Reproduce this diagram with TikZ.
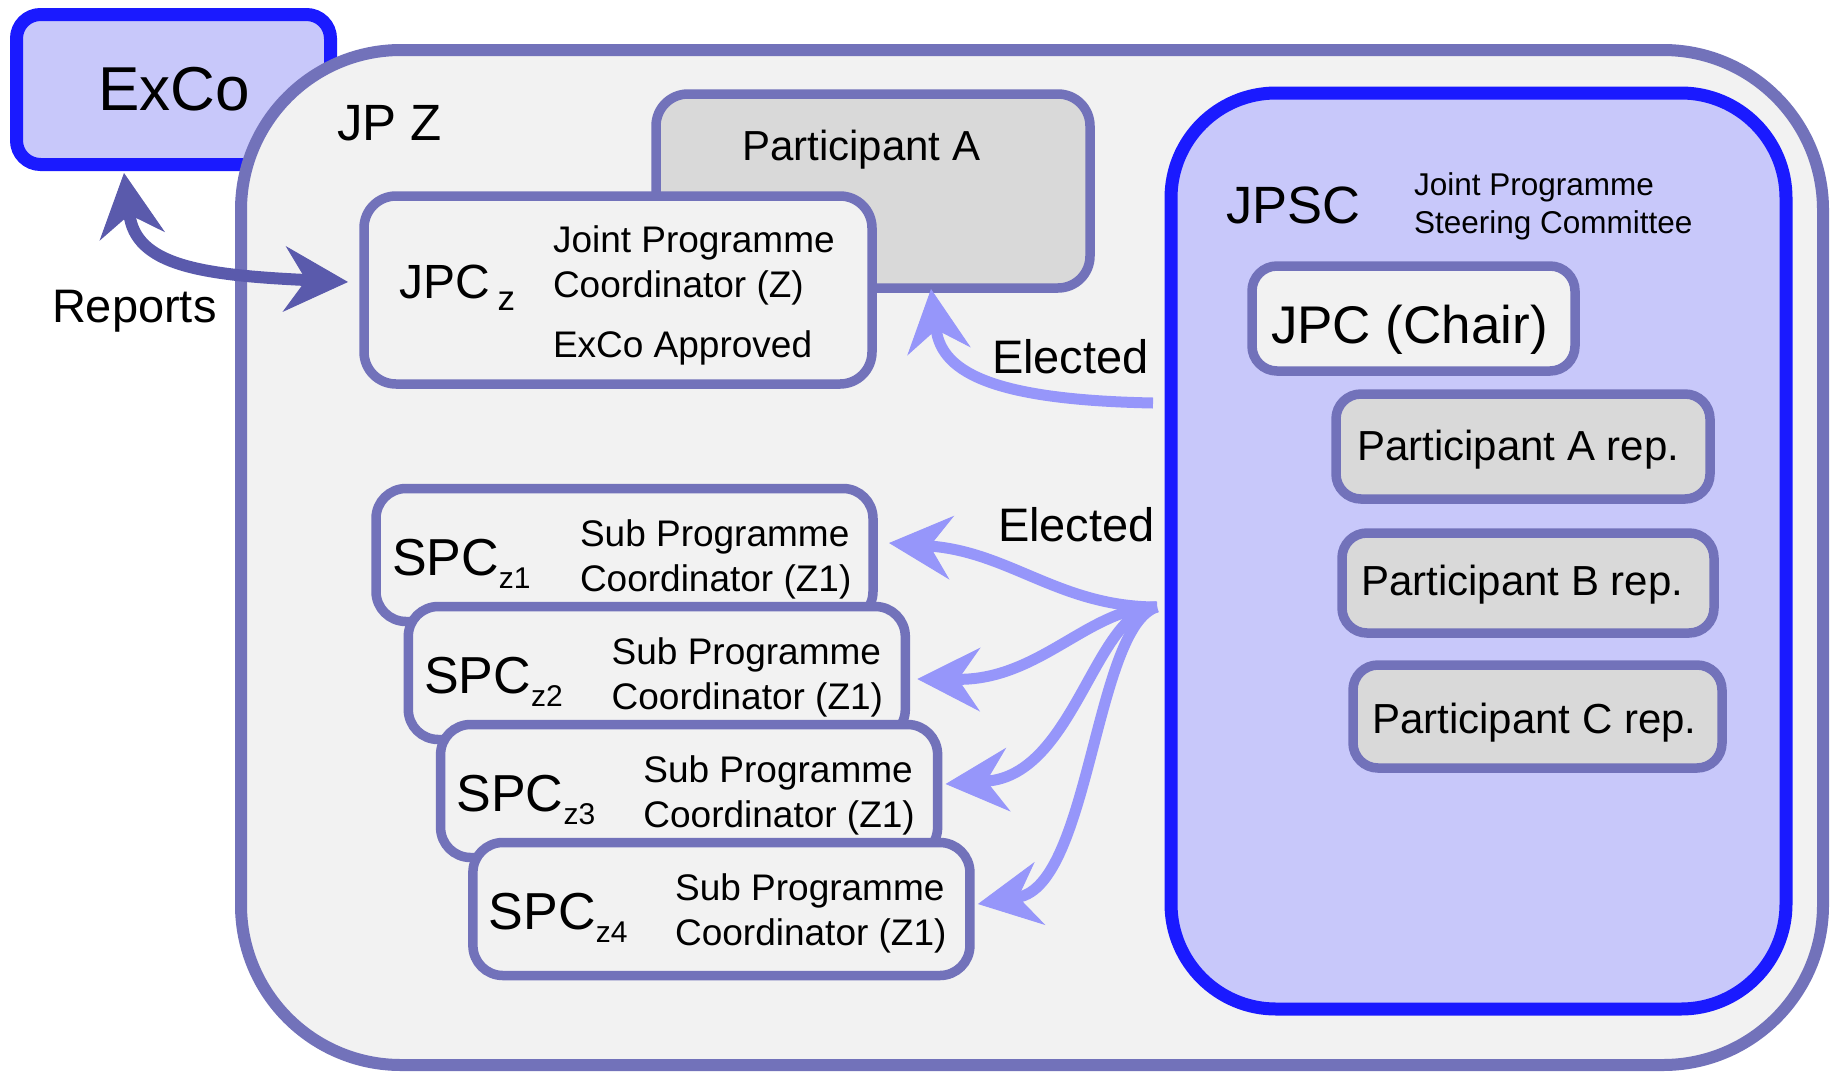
\documentclass[tikz,border=0pt]{standalone}
\usepackage{fontspec}
\setmainfont{Liberation Sans}
\usetikzlibrary{arrows.meta,calc}
\definecolor{bord}{RGB}{114,114,186}
\definecolor{bgray}{HTML}{F2F2F2}
\definecolor{pgray}{HTML}{D9D9D9}
\definecolor{bblue}{RGB}{26,26,255}
\definecolor{lblue}{RGB}{200,200,250}
\definecolor{repcol}{RGB}{90,90,172}
\definecolor{eleccol}{RGB}{150,150,250}
\newcommand\myfs[1]{\fontsize{#1pt}{#1pt}\selectfont}
\begin{document}
\begin{tikzpicture}[x=1pt,y=-1pt,
  every node/.style={inner sep=0pt, outer sep=0pt},
  txt/.style={anchor=base west},
  box/.style={draw=bord, line width=9.5pt, rounded corners=30pt, fill=bgray},
  repbox/.style={box, fill=pgray, rounded corners=25pt},
  bluebox/.style={draw=bblue, line width=13pt, fill=lblue},
  bigbox/.style={draw=bord, line width=12pt, fill=bgray, rounded corners=160pt},
  reparrow/.style={draw=repcol, line width=12pt,
    {Stealth[length=64pt,width=66pt,inset=22pt,line width=1pt]}-{Stealth[length=64pt,width=66pt,inset=22pt,line width=1pt]}},
  elarrow/.style={draw=eleccol, line width=11pt,
    -{Stealth[length=63pt,width=64pt,inset=22pt,line width=1pt]}}
]
\useasboundingbox (0,0) rectangle (1830,1071);
\fill[white] (0,0) rectangle (1830,1071);

% ExCo
\node[bluebox, rounded corners=24pt, minimum width=314pt, minimum height=150pt] (exco) at (173.5,89.5) {};
\node[txt, font=\myfs{62}] (excot) at (98,110) {ExCo};

% JP Z container
\node[bigbox, minimum width=1582pt, minimum height=1015pt] (jpz) at (1032,557.5) {};
\node[txt, font=\myfs{51}] (jpzt) at (337,140) {JP Z};

% Participant A
\node[box, fill=pgray, rounded corners=32pt, minimum width=434pt, minimum height=194pt] (pa) at (873,191) {};
\node[txt, font=\myfs{42}] (pat) at (742,160) {Participant A};

% JPC_z
\node[box, rounded corners=32pt, minimum width=508pt, minimum height=188pt] (jpcz) at (618,290) {};
\node[txt, font=\myfs{48}] (jpczt) at (399,298) {JPC\kern8pt\raisebox{-12pt}{\myfs{35}z}};
\node[txt, font=\myfs{37}] (jpczl1) at (553,252) {Joint Programme};
\node[txt, font=\myfs{37}] (jpczl2) at (553,297) {Coordinator (Z)};
\node[txt, font=\myfs{37}] (jpczl3) at (553,357) {ExCo Approved};

% JPSC
\node[bluebox, rounded corners=105pt, minimum width=615pt, minimum height=916pt] (jpsc) at (1478.5,551) {};
\node[txt, font=\myfs{52.5}] (jpsct) at (1226,223) {JPSC};
\node[txt, font=\myfs{31.5}] (jpscl1) at (1414,195) {Joint Programme};
\node[txt, font=\myfs{31.5}] (jpscl2) at (1414,233) {Steering Committee};

\node[box, rounded corners=25pt, minimum width=323pt, minimum height=105pt] (chair) at (1413.5,318.5) {};
\node[txt, font=\myfs{53}] (chairt) at (1271,343) {JPC (Chair)};

\node[repbox, minimum width=374pt, minimum height=105pt] (parep) at (1523,446.5) {};
\node[txt, font=\myfs{42}] (parept) at (1357,460) {Participant A rep.};
\node[repbox, minimum width=372pt, minimum height=100pt] (pbrep) at (1528,583) {};
\node[txt, font=\myfs{42}] (pbrept) at (1361,595) {Participant B rep.};
\node[repbox, minimum width=369pt, minimum height=103pt] (pcrep) at (1537.5,716.5) {};
\node[txt, font=\myfs{42}] (pcrept) at (1372,733) {Participant C rep.};

% SPC boxes
\foreach \k/\s in {0/1,1/2,2/3,3/4}{
  \node[box, rounded corners=30pt, minimum width=497pt, minimum height=133pt] (spc\s) at ({624.5+32.3*\k},{555+118*\k}) {};
  \node[txt, font=\myfs{52}] (spct\s) at ({392+32.3*\k},{575+118*\k}) {SPC\raisebox{-13pt}{\myfs{30}z\s}};
  \node[txt, font=\myfs{37}] (spca\s) at ({580+31.7*\k},{546+118*\k}) {Sub Programme};
  \node[txt, font=\myfs{37}] (spcb\s) at ({580+31.7*\k},{591+118*\k}) {Coordinator (Z1)};
}

% labels
\node[txt, font=\myfs{47}] (reports) at (52,322) {Reports};
\node[txt, font=\myfs{47}] (elected1) at (992,373) {Elected};
\node[txt, font=\myfs{47}] (elected2) at (998,541) {Elected};

% connectors
\coordinate (e1) at ($(jpsc.west |- 0,403)+(-18,0)$);
\coordinate (fan) at ($(jpsc.west |- 0,607)+(-14,0)$);

\draw[reparrow] ($(exco.south -| 124,0)+(0,8.5)$) .. controls (136,265) and (200,275) .. ($(jpcz.west |- 0,282)+(-16,0)$);

\draw[elarrow] (e1) .. controls (1000,400) and (942,375) .. ($(pa.south -| 931,0)+(0,1)$);

\draw[elarrow] (fan) .. controls (1060,607) and (1010,552) .. ($(spc1.east |- 0,543)+(16,0)$);
\draw[elarrow] (fan) .. controls (1090,607) and (1040,680) .. ($(spc2.east |- 0,679)+(12,0)$);
\draw[elarrow] (fan) .. controls (1095,609) and (1075,775) .. ($(spc3.east |- 0,784)+(8,0)$);
\draw[elarrow] (fan) .. controls (1095,625) and (1090,885) .. ($(spc4.east |- 0,904)+(8,0)$);
\end{tikzpicture}
\end{document}
